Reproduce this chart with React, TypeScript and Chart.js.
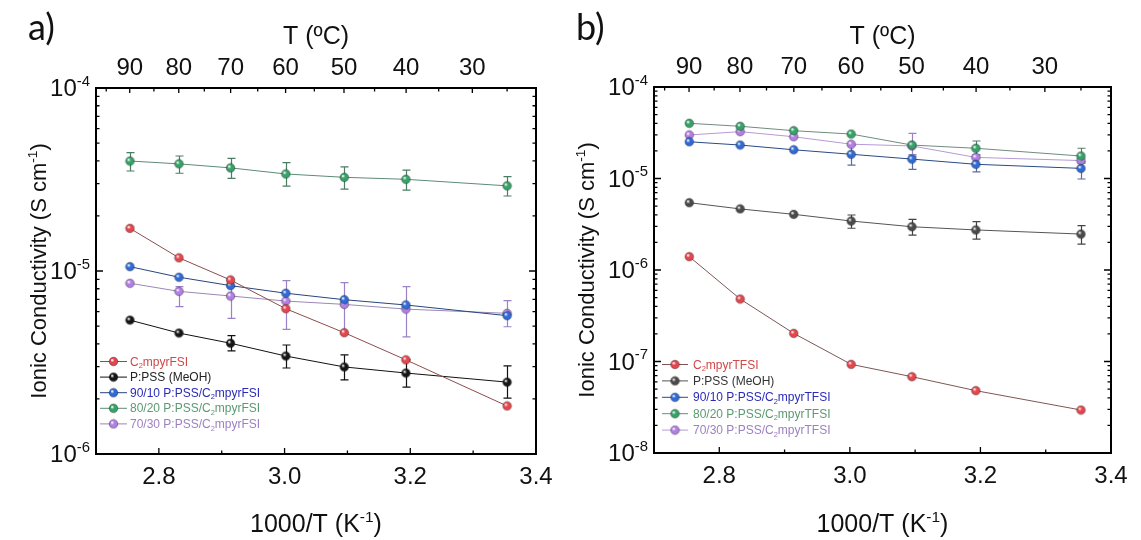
import React, { useEffect, useRef } from "react";
import { Chart, registerables } from "chart.js";
Chart.register(...registerables);

// ---------- data ----------
const xValues = [2.754, 2.832, 2.914, 3.002, 3.095, 3.193, 3.354]; // 1000/T (K^-1)
const topTempMajor = [90, 80, 70, 60, 50, 40, 30];
const topTempMinor = [95, 85, 75, 65, 55, 45, 35, 25];
const xMajorTicks = [2.8, 3.0, 3.2, 3.4];
const xTickLabels = ["2.8", "3.0", "3.2", "3.4"];
const xMinorTicks = [2.9, 3.1, 3.3];

// Panel a (FSI)
const aRedY = [1.71e-5, 1.18e-5, 8.93e-6, 6.22e-6, 4.6e-6, 3.27e-6, 1.83e-6];
const aBlackY = [5.39e-6, 4.58e-6, 4.03e-6, 3.43e-6, 2.99e-6, 2.77e-6, 2.47e-6];
const aBlackHi = [null, null, 4.43e-6, 3.94e-6, 3.48e-6, 3.27e-6, 3.03e-6];
const aBlackLo = [null, null, 3.66e-6, 2.95e-6, 2.54e-6, 2.32e-6, 2.02e-6];
const aBlueY = [1.056e-5, 9.25e-6, 8.32e-6, 7.56e-6, 6.97e-6, 6.52e-6, 5.7e-6];
const aGreenY = [3.99e-5, 3.85e-5, 3.66e-5, 3.39e-5, 3.25e-5, 3.17e-5, 2.92e-5];
const aGreenHi = [4.43e-5, 4.25e-5, 4.13e-5, 3.91e-5, 3.71e-5, 3.56e-5, 3.28e-5];
const aGreenLo = [3.52e-5, 3.42e-5, 3.21e-5, 2.91e-5, 2.8e-5, 2.77e-5, 2.57e-5];
const aPurpleY = [8.57e-6, 7.74e-6, 7.3e-6, 6.85e-6, 6.57e-6, 6.19e-6, 5.87e-6];
const aPurpleHi = [null, 8.21e-6, 8.21e-6, 8.85e-6, 8.63e-6, 8.21e-6, 6.88e-6];
const aPurpleLo = [null, 6.38e-6, 5.51e-6, 4.8e-6, 4.6e-6, 4.37e-6, 4.96e-6];

// Panel b (TFSI)
const bRedY = [1.4e-6, 4.82e-7, 2.03e-7, 9.31e-8, 6.82e-8, 4.8e-8, 2.95e-8];
const bBlackY = [5.44e-6, 4.65e-6, 4.06e-6, 3.43e-6, 2.97e-6, 2.74e-6, 2.47e-6];
const bBlackHi = [null, null, null, 3.99e-6, 3.58e-6, 3.37e-6, 3.05e-6];
const bBlackLo = [null, null, null, 2.86e-6, 2.41e-6, 2.17e-6, 1.92e-6];
const bBlueY = [2.52e-5, 2.32e-5, 2.06e-5, 1.84e-5, 1.63e-5, 1.43e-5, 1.29e-5];
const bBlueHi = [null, null, null, 2.32e-5, 1.81e-5, 1.69e-5, 1.53e-5];
const bBlueLo = [null, null, null, 1.4e-5, 1.26e-5, 1.18e-5, 9.87e-6];
const bGreenY = [4.01e-5, 3.72e-5, 3.33e-5, 3.06e-5, 2.32e-5, 2.14e-5, 1.76e-5];
const bGreenHi = [null, null, null, null, null, 2.57e-5, 2.14e-5];
const bGreenLo = [null, null, null, null, null, 1.81e-5, 1.47e-5];
const bPurpleY = [2.99e-5, 3.25e-5, 2.86e-5, 2.37e-5, 2.27e-5, 1.7e-5, 1.57e-5];
const bPurpleHi = [null, null, null, null, 3.12e-5, null, null];
const bPurpleLo = [null, null, null, null, 1.73e-5, null, null];

// ---------- helpers ----------
const FONT = '"Liberation Sans", Arial, sans-serif';

type Part = { t: string; m?: "sup" | "sub" };

function partFont(size: number, m?: string) {
  const s = m ? size * 0.62 : size;
  return `${s}px ${FONT}`;
}

function richWidth(ctx: CanvasRenderingContext2D, parts: Part[], size: number) {
  let w = 0;
  for (const p of parts) {
    ctx.font = partFont(size, p.m);
    w += ctx.measureText(p.t).width;
  }
  return w;
}

function drawRich(
  ctx: CanvasRenderingContext2D,
  parts: Part[],
  x: number,
  y: number,
  size: number,
  align: "left" | "center" | "right",
  color: string
) {
  const w = richWidth(ctx, parts, size);
  let cx = align === "left" ? x : align === "center" ? x - w / 2 : x - w;
  ctx.fillStyle = color;
  ctx.textAlign = "left";
  ctx.textBaseline = "alphabetic";
  for (const p of parts) {
    ctx.font = partFont(size, p.m);
    const dy = p.m === "sup" ? -size * 0.42 : p.m === "sub" ? size * 0.22 : 0;
    ctx.fillText(p.t, cx, y + dy);
    cx += ctx.measureText(p.t).width;
  }
}

function makeBall(color: string, r: number) {
  const c = document.createElement("canvas");
  const s = Math.ceil(r * 2 + 2);
  c.width = s;
  c.height = s;
  const g = c.getContext("2d")!;
  const cx = s / 2;
  const grad = g.createRadialGradient(cx - r * 0.35, cx - r * 0.35, r * 0.1, cx, cx, r);
  grad.addColorStop(0, "rgba(255,255,255,0.9)");
  grad.addColorStop(0.35, color);
  grad.addColorStop(1, color);
  g.beginPath();
  g.arc(cx, cx, r, 0, Math.PI * 2);
  g.fillStyle = grad;
  g.fill();
  g.lineWidth = 0.8;
  g.strokeStyle = "rgba(0,0,0,0.45)";
  g.stroke();
  return c;
}

type Series = {
  label: Part[];
  y: number[];
  hi?: (number | null)[];
  lo?: (number | null)[];
  marker: string;
  line: string;
  text: string;
  err: string;
};

type PanelCfg = {
  tag: string;
  width: number;
  pad: { left: number; right: number; top: number; bottom: number };
  yMin: number;
  yMax: number;
  series: Series[];
  legend: { lineX0: number; lineX1: number; textX: number; y0: number; dy: number };
  yTitleX: number;
  tagX: number;
};

const RED_M = "#e5454c";
const BLUE_M = "#2f6ad6";
const GREEN_M = "#35a268";
const PURPLE_M = "#b27fe4";

const panelA: PanelCfg = {
  tag: "a)",
  width: 570,
  pad: { left: 96, right: 34, top: 88, bottom: 86 },
  yMin: 1e-6,
  yMax: 1e-4,
  yTitleX: 38,
  tagX: 28,
  legend: { lineX0: 100, lineX1: 127, textX: 130, y0: 361, dy: 15.6 },
  series: [
    { label: [{ t: "C" }, { t: "2", m: "sub" }, { t: "mpyrFSI" }], y: aRedY, marker: RED_M, line: "#8e4c4c", text: "#d04848", err: "#b04848" },
    { label: [{ t: "P:PSS (MeOH)" }], y: aBlackY, hi: aBlackHi, lo: aBlackLo, marker: "#161616", line: "#111111", text: "#222222", err: "#111111" },
    { label: [{ t: "90/10 P:PSS/C" }, { t: "2", m: "sub" }, { t: "mpyrFSI" }], y: aBlueY, marker: BLUE_M, line: "#27457e", text: "#2b2bb8", err: "#3a5aa0" },
    { label: [{ t: "80/20 P:PSS/C" }, { t: "2", m: "sub" }, { t: "mpyrFSI" }], y: aGreenY, hi: aGreenHi, lo: aGreenLo, marker: GREEN_M, line: "#5e8a76", text: "#5a9a72", err: "#4c7c64" },
    { label: [{ t: "70/30 P:PSS/C" }, { t: "2", m: "sub" }, { t: "mpyrFSI" }], y: aPurpleY, hi: aPurpleHi, lo: aPurpleLo, marker: PURPLE_M, line: "#9a88b6", text: "#9d80c4", err: "#9a82c8" },
  ],
};

const panelB: PanelCfg = {
  tag: "b)",
  width: 571,
  pad: { left: 84, right: 30, top: 87, bottom: 87 },
  yMin: 1e-8,
  yMax: 1e-4,
  yTitleX: 16,
  tagX: 6,
  legend: { lineX0: 92, lineX1: 118, textX: 123, y0: 364, dy: 16.4 },
  series: [
    { label: [{ t: "C" }, { t: "2", m: "sub" }, { t: "mpyrTFSI" }], y: bRedY, marker: RED_M, line: "#7e5656", text: "#d04848", err: "#b04848" },
    { label: [{ t: "P:PSS (MeOH)" }], y: bBlackY, hi: bBlackHi, lo: bBlackLo, marker: "#4a4a4a", line: "#555555", text: "#333333", err: "#444444" },
    { label: [{ t: "90/10 P:PSS/C" }, { t: "2", m: "sub" }, { t: "mpyrTFSI" }], y: bBlueY, hi: bBlueHi, lo: bBlueLo, marker: BLUE_M, line: "#2a4a86", text: "#2b2bb8", err: "#5a6c9c" },
    { label: [{ t: "80/20 P:PSS/C" }, { t: "2", m: "sub" }, { t: "mpyrTFSI" }], y: bGreenY, hi: bGreenHi, lo: bGreenLo, marker: GREEN_M, line: "#6f8c80", text: "#5a9a72", err: "#5c7c6c" },
    { label: [{ t: "70/30 P:PSS/C" }, { t: "2", m: "sub" }, { t: "mpyrTFSI" }], y: bPurpleY, hi: bPurpleHi, lo: bPurpleLo, marker: PURPLE_M, line: "#b59ad6", text: "#9d80c4", err: "#9a82c8" },
  ],
};

function makePlugin(cfg: PanelCfg, balls: HTMLCanvasElement[]) {
  return {
    id: "panelDecor" + cfg.tag,
    beforeDatasetsDraw(chart: any) {
      const ctx: CanvasRenderingContext2D = chart.ctx;
      const xs = chart.scales.x;
      const ys = chart.scales.y;
      ctx.save();
      cfg.series.forEach((s) => {
        if (!s.hi || !s.lo) return;
        ctx.strokeStyle = s.err;
        ctx.lineWidth = 1.2;
        xValues.forEach((xv, i) => {
          const hi = s.hi![i];
          const lo = s.lo![i];
          if (hi == null || lo == null) return;
          const px = Math.round(xs.getPixelForValue(xv)) + 0.5;
          const py1 = ys.getPixelForValue(hi);
          const py2 = ys.getPixelForValue(lo);
          ctx.beginPath();
          ctx.moveTo(px, py1);
          ctx.lineTo(px, py2);
          ctx.moveTo(px - 4, py1);
          ctx.lineTo(px + 4, py1);
          ctx.moveTo(px - 4, py2);
          ctx.lineTo(px + 4, py2);
          ctx.stroke();
        });
      });
      ctx.restore();
    },
    afterDraw(chart: any) {
      const ctx: CanvasRenderingContext2D = chart.ctx;
      const a = chart.chartArea;
      const xs = chart.scales.x;
      const ys = chart.scales.y;
      ctx.save();
      // frame
      ctx.strokeStyle = "#000";
      ctx.lineWidth = 2;
      ctx.strokeRect(a.left, a.top, a.right - a.left, a.bottom - a.top);
      ctx.lineWidth = 1.3;
      ctx.beginPath();
      // bottom ticks (inward)
      xMajorTicks.forEach((v) => {
        const px = xs.getPixelForValue(v);
        ctx.moveTo(px, a.bottom);
        ctx.lineTo(px, a.bottom - 6);
      });
      xMinorTicks.forEach((v) => {
        const px = xs.getPixelForValue(v);
        ctx.moveTo(px, a.bottom);
        ctx.lineTo(px, a.bottom - 3.5);
      });
      // top ticks (temperature)
      topTempMajor.forEach((t) => {
        const px = xs.getPixelForValue(1000 / (t + 273.15));
        ctx.moveTo(px, a.top);
        ctx.lineTo(px, a.top + 5);
      });
      topTempMinor.forEach((t) => {
        const px = xs.getPixelForValue(1000 / (t + 273.15));
        ctx.moveTo(px, a.top);
        ctx.lineTo(px, a.top + 3.5);
      });
      // left and right ticks (log)
      const eMin = Math.round(Math.log10(cfg.yMin));
      const eMax = Math.round(Math.log10(cfg.yMax));
      for (let e = eMin; e <= eMax; e++) {
        for (let m = 1; m <= 9; m++) {
          const v = m * Math.pow(10, e);
          if (v < cfg.yMin * 0.999 || v > cfg.yMax * 1.001) continue;
          const py = ys.getPixelForValue(v);
          const len = m === 1 ? 7 : 3.5;
          ctx.moveTo(a.left, py);
          ctx.lineTo(a.left + len, py);
          ctx.moveTo(a.right, py);
          ctx.lineTo(a.right - len, py);
        }
      }
      ctx.stroke();

      // tick labels
      const TS = 24;
      xMajorTicks.forEach((v, i) => {
        drawRich(ctx, [{ t: xTickLabels[i] }], xs.getPixelForValue(v), a.bottom + 30, TS, "center", "#111");
      });
      topTempMajor.forEach((t) => {
        drawRich(ctx, [{ t: String(t) }], xs.getPixelForValue(1000 / (t + 273.15)), a.top - 13, TS, "center", "#111");
      });
      for (let e = eMin; e <= eMax; e++) {
        const py = ys.getPixelForValue(Math.pow(10, e));
        drawRich(ctx, [{ t: "10" }, { t: String(e), m: "sup" }], a.left - 6, py + 8, TS, "right", "#111");
      }

      // axis titles
      const cx = (a.left + a.right) / 2;
      drawRich(ctx, [{ t: "1000/T (K" }, { t: "-1", m: "sup" }, { t: ")" }], cx, 532, 25, "center", "#111");
      drawRich(ctx, [{ t: "T (ºC)" }], cx, 44, 25, "center", "#111");
      ctx.save();
      ctx.translate(cfg.yTitleX, (a.top + a.bottom) / 2);
      ctx.rotate(-Math.PI / 2);
      drawRich(ctx, [{ t: "Ionic Conductivity (S cm" }, { t: "-1", m: "sup" }, { t: ")" }], 0, 8, 22, "center", "#111");
      ctx.restore();

      // panel tag
      ctx.font = `36px Lato, "Open Sans", sans-serif`;
      ctx.fillStyle = "#111";
      ctx.textAlign = "left";
      ctx.textBaseline = "alphabetic";
      ctx.fillText(cfg.tag, cfg.tagX, 40);

      // legend
      const L = cfg.legend;
      cfg.series.forEach((s, i) => {
        const y = L.y0 + i * L.dy;
        ctx.strokeStyle = s.line;
        ctx.lineWidth = 1;
        ctx.beginPath();
        ctx.moveTo(L.lineX0, y + 0.5);
        ctx.lineTo(L.lineX1, y + 0.5);
        ctx.stroke();
        const b = balls[i];
        ctx.drawImage(b, (L.lineX0 + L.lineX1) / 2 - b.width / 2, y - b.height / 2 + 0.5);
        drawRich(ctx, s.label, L.textX, y + 4.5, 12, "left", s.text);
      });
      ctx.restore();
    },
  };
}

function Panel({ cfg, left }: { cfg: PanelCfg; left: number }) {
  const ref = useRef<HTMLCanvasElement | null>(null);
  useEffect(() => {
    const canvas = ref.current!;
    const balls = cfg.series.map((s) => makeBall(s.marker, 4.3));
    const chart = new Chart(canvas, {
      type: "scatter",
      data: {
        datasets: cfg.series.map((s, i) => ({
          label: s.label.map((p) => p.t).join(""),
          data: xValues.map((x, k) => ({ x, y: s.y[k] })),
          showLine: true,
          borderColor: s.line,
          borderWidth: 1,
          backgroundColor: s.marker,
          pointStyle: balls[i] as any,
          pointRadius: 4.3,
          order: i,
        })),
      },
      options: {
        animation: false,
        responsive: false,
        maintainAspectRatio: false,
        events: [],
        layout: { padding: cfg.pad },
        scales: {
          x: { type: "linear", min: 2.7, max: 3.4, display: false },
          y: { type: "logarithmic", min: cfg.yMin, max: cfg.yMax, display: false },
        },
        plugins: { legend: { display: false }, tooltip: { enabled: false } },
      },
      plugins: [makePlugin(cfg, balls)],
    } as any);
    return () => chart.destroy();
  }, [cfg]);
  return (
    <canvas
      ref={ref}
      width={cfg.width}
      height={540}
      style={{ position: "absolute", left, top: 0, width: cfg.width, height: 540, display: "block" }}
    />
  );
}

export default function App() {
  return (
    <div style={{ position: "fixed", left: 0, top: 0, width: 1141, height: 540, background: "#fff" }}>
      <Panel cfg={panelA} left={0} />
      <Panel cfg={panelB} left={570} />
    </div>
  );
}
